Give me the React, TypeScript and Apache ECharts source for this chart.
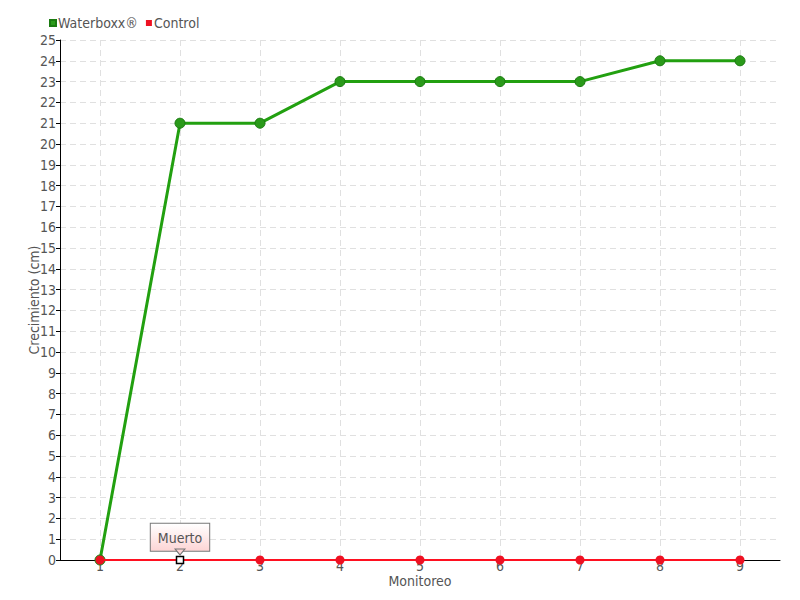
import React, { useEffect, useRef } from "react";
import * as echarts from "echarts";

const categories = ["1", "2", "3", "4", "5", "6", "7", "8", "9"];
const waterboxx = [0, 21, 21, 23, 23, 23, 23, 24, 24];
const control = [0, 0, 0, 0, 0, 0, 0, 0, 0];
const deadIndex = 1;
const deadLabel = "Muerto";

const FONT = "'DejaVu Sans Condensed', 'Liberation Sans Narrow', sans-serif";

export default function App() {
  const ref = useRef<HTMLDivElement>(null);
  useEffect(() => {
    const chart = echarts.init(ref.current!, null, { renderer: "svg" });
    // half-step helper axis so vertical grid lines sit on category centres
    const halfSteps: string[] = [];
    for (let i = 0; i < categories.length * 2 + 1; i++) halfSteps.push(String(i));
    const controlData = control.map((v, i) =>
      i === deadIndex
        ? {
            value: v,
            symbol: "rect",
            symbolSize: 7,
            itemStyle: { color: "#ffffff", borderColor: "#000000", borderWidth: 1.5 },
            label: {
              show: true,
              position: "top",
              distance: 5,
              formatter: deadLabel,
              color: "#555",
              fontFamily: FONT,
              fontSize: 14,
              lineHeight: 16,
              backgroundColor: {
                type: "linear", x: 0, y: 0, x2: 0, y2: 1,
                colorStops: [
                  { offset: 0, color: "#ffffff" },
                  { offset: 1, color: "#fdd5d5" },
                ],
              },
              borderColor: "#777",
              borderWidth: 1,
              padding: [6, 7, 5, 7],
            },
          }
        : v
    );
    chart.setOption({
      animation: false,
      textStyle: { fontFamily: FONT },
      legend: {
        left: 44,
        top: 11,
        itemWidth: 6,
        itemHeight: 6,
        itemGap: 8,
        icon: "rect",
        textStyle: { color: "#555", fontSize: 14, fontFamily: FONT, padding: [0, 0, 0, -3] },
        data: ["Waterboxx®", "Control"],
      },
      grid: { left: 60, right: 20, top: 40, bottom: 40, containLabel: false },
      xAxis: [
        {
          type: "category",
          data: categories,
          boundaryGap: true,
          name: "Monitoreo",
          nameLocation: "middle",
          nameGap: 14,
          nameMoveOverlap: false,
          nameTextStyle: { color: "#555", fontSize: 14, fontFamily: FONT },
          axisLine: { lineStyle: { color: "#000" } },
          axisTick: { show: false },
          axisLabel: { color: "#555", fontSize: 14, margin: -1, fontFamily: FONT },
          splitLine: { show: false },
          z: 0,
        },
        {
          type: "category",
          data: halfSteps,
          boundaryGap: false,
          position: "bottom",
          show: true,
          axisLine: { show: false },
          axisTick: { show: false },
          axisLabel: { show: false },
          splitLine: {
            show: true,
            interval: (index: number) => index % 2 === 1,
            lineStyle: { color: "#e0e0e0", type: [6, 4] },
          },
          z: 0,
        },
      ],
      yAxis: {
        type: "value",
        min: 0,
        max: 25,
        interval: 1,
        name: "Crecimiento (cm)",
        nameLocation: "middle",
        nameGap: 19,
        nameMoveOverlap: false,
        nameTextStyle: { color: "#555", fontSize: 14, fontFamily: FONT },
        axisLine: { show: true, lineStyle: { color: "#000" } },
        axisTick: { show: true, length: 4, inside: false, lineStyle: { color: "#000" } },
        axisLabel: { color: "#555", fontSize: 14, margin: 4, fontFamily: FONT },
        splitLine: { show: true, lineStyle: { color: "#e0e0e0", type: [6, 4] } },
        z: 0,
      },
      series: [
        {
          name: "Waterboxx®",
          type: "line",
          data: waterboxx,
          symbol: "circle",
          symbolSize: 10,
          color: "#22a010",
          lineStyle: { color: "#22a010", width: 3 },
          itemStyle: { color: "#2a9a1a", borderColor: "#1a7a10", borderWidth: 1 },
          z: 3,
        },
        {
          name: "Control",
          type: "line",
          data: controlData,
          symbol: "circle",
          symbolSize: 9,
          color: "#ee1122",
          lineStyle: { color: "#ff1020", width: 2 },
          itemStyle: { color: "#ee1122" },
          z: 4,
          markPoint: {
            silent: true,
            label: { show: false },
            data: [
              {
                coord: [deadIndex, control[deadIndex]],
                symbol: "triangle",
                symbolRotate: 180,
                symbolSize: [10, 6],
                symbolOffset: [0, -8],
                itemStyle: { color: "#fdd5d5", borderColor: "#777", borderWidth: 1 },
              },
            ],
          },
        },
      ],
    });
    return () => chart.dispose();
  }, []);
  return <div ref={ref} style={{ width: 800, height: 600, position: "absolute", left: 0, top: 0 }} />;
}
